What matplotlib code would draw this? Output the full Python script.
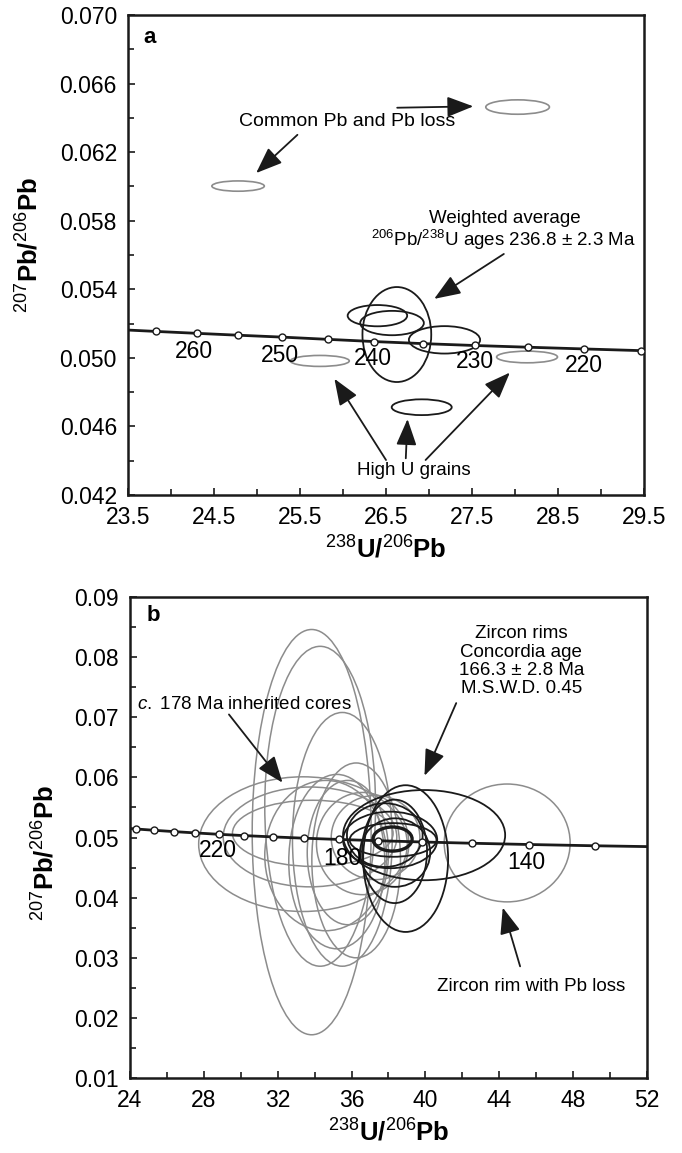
import numpy as np
import matplotlib
matplotlib.use("Agg")
import matplotlib.pyplot as plt
from matplotlib.patches import Ellipse
from matplotlib.ticker import MultipleLocator, FormatStrFormatter

plt.rcParams['font.family'] = ['Liberation Sans', 'DejaVu Sans']
plt.rcParams['mathtext.fontset'] = 'custom'
plt.rcParams['mathtext.rm'] = 'Liberation Sans'
plt.rcParams['mathtext.it'] = 'Liberation Sans:italic'
plt.rcParams['mathtext.bf'] = 'Liberation Sans:bold'

# concordia tick points (238U/206Pb, 207Pb/206Pb)
conc_a_x = [23.38, 23.83, 24.30, 24.78, 25.29, 25.82, 26.36, 26.93, 27.53, 28.15, 28.80, 29.47, 30.19]
conc_a_y = [0.05165, 0.05154, 0.05143, 0.05132, 0.05121, 0.05108, 0.05095, 0.05083, 0.05072, 0.05062, 0.05052, 0.05042, 0.05032]
conc_a_ages = ['260', '250', '240', '230', '220']
conc_a_lab_x = [24.27, 25.27, 26.35, 27.53, 28.80]
conc_a_lab_y = [0.05038, 0.05011, 0.04997, 0.04976, 0.04955]

conc_b_x = [23.38, 24.30, 25.29, 26.36, 27.53, 28.80, 30.19, 31.73, 33.43, 35.33, 37.45, 39.84, 42.54, 45.63, 49.18, 53.30]
conc_b_y = [0.05165, 0.05143, 0.05121, 0.05099, 0.05077, 0.05054, 0.05032, 0.05011, 0.04989, 0.04968, 0.04947, 0.04926, 0.04905, 0.04884, 0.04863, 0.04843]
conc_b_ages = ['220', '180', '140']
conc_b_lab_x = [28.78, 35.48, 45.48]
conc_b_lab_y = [0.04780, 0.04654, 0.04591]

# panel a error ellipses: centre x, centre y, half width, half height
a_grey_x = [28.03, 24.78, 25.73, 28.14]
a_grey_y = [0.06463, 0.06002, 0.04982, 0.05005]
a_grey_sx = [0.37, 0.305, 0.343, 0.354]
a_grey_sy = [0.00042, 0.00030, 0.00032, 0.00034]

a_black_x = [26.626, 26.40, 26.57, 27.18, 26.915]
a_black_y = [0.05136, 0.05246, 0.05203, 0.05105, 0.04712]
a_black_sx = [0.40, 0.346, 0.37, 0.414, 0.349]
a_black_sy = [0.00277, 0.00062, 0.00071, 0.00080, 0.00046]

# panel b error ellipses
b_grey_x = [33.84, 34.3, 35.5, 36.25, 33.37, 33.75, 33.9, 34.6, 35.2, 35.8, 36.6, 37.3, 44.43]
b_grey_y = [0.0509, 0.0552, 0.0497, 0.0462, 0.0489, 0.0501, 0.0507, 0.0470, 0.0460, 0.0475, 0.0490, 0.0500, 0.0491]
b_grey_sx = [3.22, 3.0, 2.7, 2.4, 5.65, 4.7, 4.35, 3.3, 2.6, 2.2, 2.5, 2.4, 3.41]
b_grey_sy = [0.0337, 0.0266, 0.0211, 0.0162, 0.0112, 0.0083, 0.0055, 0.0125, 0.0145, 0.0120, 0.0085, 0.0070, 0.0098]

b_black_x = [39.93, 38.93, 38.33, 38.09, 38.36, 37.8, 38.25]
b_black_y = [0.0504, 0.0465, 0.0477, 0.0496, 0.0475, 0.0504, 0.0496]
b_black_sx = [4.39, 2.30, 1.76, 2.55, 1.9, 2.05, 2.35]
b_black_sy = [0.0075, 0.0122, 0.0086, 0.0047, 0.0057, 0.0053, 0.0028]
b_mean_x, b_mean_y, b_mean_sx, b_mean_sy = 38.22, 0.04975, 1.06, 0.0020

grey = '#8c8c8c'
ink = '#1a1a1a'

fig = plt.figure(figsize=(6.82, 11.53), dpi=100)
ax1 = fig.add_axes([0.1877, 0.5707, 0.7566, 0.4163])
ax2 = fig.add_axes([0.1906, 0.0650, 0.7580, 0.4172])

def ellipses(ax, xs, ys, sxs, sys_, color, lw):
    for x, y, sx, sy in zip(xs, ys, sxs, sys_):
        ax.add_patch(Ellipse((x, y), 2*sx, 2*sy, fill=False, ec=color, lw=lw))

def style(ax):
    for s in ax.spines.values():
        s.set_linewidth(1.8)
        s.set_color(ink)
    ax.tick_params(which='both', direction='in', top=False, right=False,
                   labelsize=16.5, pad=8, width=1.2, color=ink)
    ax.tick_params(which='major', length=5)
    ax.tick_params(which='minor', length=4)

arrow = dict(arrowstyle='-|>,head_length=0.9,head_width=0.35', lw=1.3,
             color=ink, shrinkA=0, shrinkB=0, mutation_scale=18)

# ---------- panel a ----------
ellipses(ax1, a_grey_x, a_grey_y, a_grey_sx, a_grey_sy, grey, 1.2)
ellipses(ax1, a_black_x, a_black_y, a_black_sx, a_black_sy, ink, 1.3)
ax1.plot(conc_a_x, conc_a_y, '-', color=ink, lw=2, marker='o', ms=5,
         mfc='white', mec=ink, mew=1.0, zorder=3)
for t, x, y in zip(conc_a_ages, conc_a_lab_x, conc_a_lab_y):
    ax1.text(x, y, t, fontsize=16.5, ha='center', va='center')

ax1.set_xlim(23.5, 29.5)
ax1.set_ylim(0.042, 0.070)
ax1.set_xticks(np.arange(23.5, 29.6, 1.0))
ax1.set_xticks(np.arange(24.0, 29.5, 1.0), minor=True)
ax1.xaxis.set_major_formatter(FormatStrFormatter('%.1f'))
ax1.set_yticks(np.arange(0.042, 0.0705, 0.004))
ax1.set_yticks(np.arange(0.044, 0.0700, 0.004), minor=True)
ax1.yaxis.set_major_formatter(FormatStrFormatter('%.3f'))
style(ax1)
ax1.set_xlabel(r'$^{\mathrm{238}}\mathbf{U/}^{\mathrm{206}}\mathbf{Pb}$', fontsize=18.5)
ax1.set_ylabel(r'$^{\mathrm{207}}\mathbf{Pb/}^{\mathrm{206}}\mathbf{Pb}$', fontsize=18.5)
ax1.yaxis.set_label_coords(-0.165, 0.52)
ax1.xaxis.set_label_coords(0.5, -0.085)
ax1.text(0.042, 0.953, 'a', transform=ax1.transAxes, fontsize=16,
         fontweight='bold', ha='center', va='center')

ax1.text(26.05, 0.06376, 'Common Pb and Pb loss', fontsize=14, ha='center', va='center')
ax1.annotate('', xy=(24.99, 0.06078), xytext=(25.47, 0.06301), arrowprops=arrow)
ax1.annotate('', xy=(27.515, 0.06467), xytext=(26.63, 0.06459), arrowprops=arrow)
ax1.text(27.88, 0.05814, 'Weighted average', fontsize=13.5, ha='center', va='center')
ax1.text(27.87, 0.05689, r'$^{206}$Pb/$^{238}$U ages 236.8 ± 2.3 Ma', fontsize=13.5,
         ha='center', va='center')
ax1.annotate('', xy=(27.06, 0.05344), xytext=(27.87, 0.05606), arrowprops=arrow)
ax1.text(26.82, 0.04341, 'High U grains', fontsize=13.5, ha='center', va='center')
ax1.annotate('', xy=(25.90, 0.04878), xytext=(26.50, 0.04404), arrowprops=arrow)
ax1.annotate('', xy=(26.75, 0.04643), xytext=(26.73, 0.04414), arrowprops=arrow)
ax1.annotate('', xy=(27.94, 0.04914), xytext=(26.96, 0.04404), arrowprops=arrow)

# ---------- panel b ----------
ellipses(ax2, b_grey_x, b_grey_y, b_grey_sx, b_grey_sy, grey, 1.1)
ellipses(ax2, b_black_x, b_black_y, b_black_sx, b_black_sy, ink, 1.3)
ax2.add_patch(Ellipse((b_mean_x, b_mean_y), 2*b_mean_sx, 2*b_mean_sy,
                      fill=False, ec=ink, lw=2.4))
ax2.plot(conc_b_x, conc_b_y, '-', color=ink, lw=2, marker='o', ms=5,
         mfc='white', mec=ink, mew=1.0, zorder=3)
for t, x, y in zip(conc_b_ages, conc_b_lab_x, conc_b_lab_y):
    ax2.text(x, y, t, fontsize=16.5, ha='center', va='center')

ax2.set_xlim(24, 52)
ax2.set_ylim(0.01, 0.09)
ax2.xaxis.set_major_locator(MultipleLocator(4))
ax2.xaxis.set_minor_locator(MultipleLocator(2))
ax2.yaxis.set_major_locator(MultipleLocator(0.01))
ax2.yaxis.set_minor_locator(MultipleLocator(0.005))
ax2.yaxis.set_major_formatter(FormatStrFormatter('%.2f'))
style(ax2)
ax2.set_xlabel(r'$^{\mathrm{238}}\mathbf{U/}^{\mathrm{206}}\mathbf{Pb}$', fontsize=18.5)
ax2.set_ylabel(r'$^{\mathrm{207}}\mathbf{Pb/}^{\mathrm{206}}\mathbf{Pb}$', fontsize=18.5)
ax2.yaxis.set_label_coords(-0.137, 0.468)
ax2.xaxis.set_label_coords(0.5, -0.085)
ax2.text(0.045, 0.961, 'b', transform=ax2.transAxes, fontsize=16,
         fontweight='bold', ha='center', va='center')

ax2.text(45.2, 0.0793, 'Zircon rims\nConcordia age\n166.3 ± 2.8 Ma\nM.S.W.D. 0.45',
         fontsize=13.5, ha='center', va='center', linespacing=1.1)
ax2.annotate('', xy=(39.95, 0.06027), xytext=(41.67, 0.07236), arrowprops=arrow)
ax2.text(24.4, 0.07217, r'$\mathit{c.}$ 178 Ma inherited cores', fontsize=13.5,
         ha='left', va='center')
ax2.annotate('', xy=(32.26, 0.05913), xytext=(29.36, 0.07047), arrowprops=arrow)
ax2.text(45.72, 0.02524, 'Zircon rim with Pb loss', fontsize=13.5, ha='center', va='center')
ax2.annotate('', xy=(44.19, 0.03835), xytext=(45.13, 0.02858), arrowprops=arrow)

fig.savefig('out.png', dpi=100)
